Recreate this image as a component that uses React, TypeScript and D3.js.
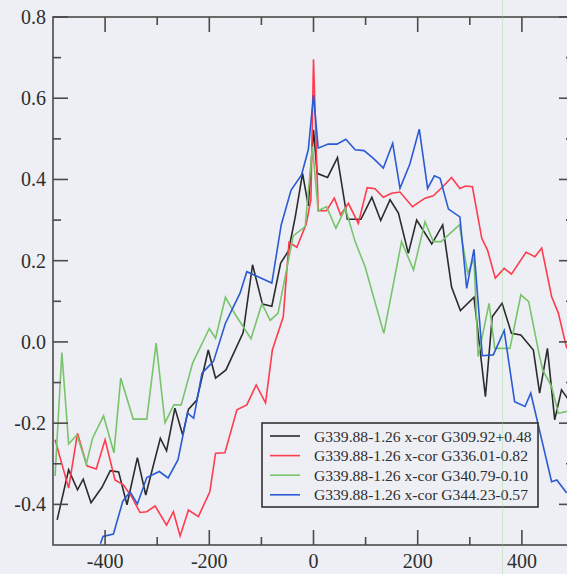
import React from "react";
import * as d3 from "d3";

// Cross-correlation of G339.88-1.26 against four other sources, vs. lag
const blackLag = [-492,-470,-453,-442,-427,-406,-390,-374,-358,-338,-322,-294,-282,-266,-251,-240,-224,-202,-188,-168,-135,-117,-98,-80,-63,-48,-35,-21,-10,0,7,27,46,65,91,112,129,147,163,182,198,227,248,265,282,308,330,343,362,380,398,422,434,449,463,476,490];
const blackVal = [-0.438,-0.315,-0.364,-0.338,-0.396,-0.358,-0.317,-0.320,-0.401,-0.285,-0.377,-0.237,-0.268,-0.163,-0.229,-0.166,-0.143,-0.020,-0.089,-0.069,0.023,0.190,0.093,0.088,0.194,0.224,0.308,0.415,0.335,0.522,0.415,0.405,0.454,0.302,0.302,0.356,0.299,0.350,0.317,0.218,0.300,0.241,0.288,0.135,0.077,0.110,-0.135,0.062,0.095,0.021,0.017,-0.020,-0.126,-0.016,-0.192,-0.118,-0.143];

const redLag = [-496,-470,-453,-435,-417,-400,-381,-365,-349,-333,-320,-304,-282,-269,-256,-240,-221,-199,-188,-170,-147,-128,-110,-92,-79,-58,-47,-32,-14,-5,0,9,25,40,52,67,86,103,118,134,150,166,190,214,230,248,265,281,292,305,323,334,349,366,380,408,425,438,457,470,486];
const redVal = [-0.241,-0.360,-0.225,-0.305,-0.313,-0.241,-0.340,-0.352,-0.381,-0.420,-0.418,-0.404,-0.451,-0.418,-0.478,-0.414,-0.430,-0.369,-0.274,-0.273,-0.167,-0.155,-0.106,-0.150,-0.020,0.062,0.245,0.233,0.290,0.350,0.696,0.323,0.323,0.354,0.313,0.341,0.292,0.380,0.377,0.356,0.366,0.369,0.333,0.354,0.360,0.382,0.405,0.378,0.384,0.382,0.255,0.226,0.157,0.181,0.167,0.221,0.210,0.231,0.112,0.071,-0.016];

const greenLag = [-496,-483,-470,-454,-436,-424,-403,-383,-370,-346,-320,-302,-285,-268,-254,-232,-200,-188,-169,-149,-120,-99,-83,-68,-39,-16,-2,9,25,43,61,80,99,135,169,192,214,230,245,280,296,308,316,337,348,377,398,413,434,440,457,470,486];
const greenVal = [-0.330,-0.026,-0.251,-0.229,-0.300,-0.237,-0.182,-0.273,-0.089,-0.190,-0.190,-0.003,-0.199,-0.155,-0.155,-0.052,0.033,0.009,0.110,0.065,0.008,0.094,0.053,0.071,0.261,0.284,0.481,0.323,0.333,0.280,0.329,0.247,0.185,0.021,0.247,0.177,0.296,0.247,0.247,0.288,0.169,0.205,-0.036,0.095,-0.016,-0.016,0.116,0.099,-0.036,-0.069,-0.110,-0.176,-0.171];

const blueLag = [-409,-404,-384,-366,-352,-338,-320,-296,-279,-260,-242,-230,-214,-192,-169,-141,-128,-80,-62,-43,-23,-10,0,9,28,45,62,80,97,115,134,152,166,185,203,219,232,243,259,281,294,308,324,345,366,386,406,417,457,467,486];
const blueVal = [-0.497,-0.479,-0.473,-0.392,-0.369,-0.399,-0.334,-0.319,-0.335,-0.290,-0.175,-0.188,-0.077,-0.048,0.046,0.120,0.173,0.145,0.288,0.374,0.411,0.473,0.608,0.477,0.487,0.487,0.499,0.473,0.471,0.452,0.428,0.489,0.378,0.438,0.524,0.378,0.409,0.403,0.327,0.308,0.132,0.228,-0.034,-0.032,0.028,-0.147,-0.159,-0.126,-0.344,-0.340,-0.372];

const seriesLabels = [
  "G339.88-1.26 x-cor G309.92+0.48",
  "G339.88-1.26 x-cor G336.01-0.82",
  "G339.88-1.26 x-cor G340.79-0.10",
  "G339.88-1.26 x-cor G344.23-0.57",
];
const seriesColors = ["#2b2b2b", "#ff3b4e", "#78c46a", "#2a5ad4"];

const xMajor = [-400, -200, 0, 200, 400];
const xMinor = [-300, -100, 100, 300];
const yMajor = [-0.4, -0.2, 0, 0.2, 0.4, 0.6, 0.8];
const yMinor = [-0.3, -0.1, 0.1, 0.3, 0.5, 0.7];

const W = 567;
const H = 574;
const BG = "#edeff4";
const AXIS = "#4a4a4a";
const FONT = "'Liberation Serif', 'Times New Roman', serif";

export default function App() {
  const x = d3.scaleLinear().domain([-500, 500]).range([53, 574]);
  const y = d3.scaleLinear().domain([-0.5, 0.8]).range([545, 17]);
  const [x0, x1] = x.range();
  const [y0, y1] = y.range();

  const series = [
    { lag: blackLag, val: blackVal },
    { lag: redLag, val: redVal },
    { lag: greenLag, val: greenVal },
    { lag: blueLag, val: blueVal },
  ];

  const line = d3
    .line<[number, number]>()
    .x((d) => x(d[0]))
    .y((d) => y(d[1]));

  const major = 15;
  const minor = 8;

  const legX = 262;
  const legY = 423;
  const legW = 276;
  const legH = 84;
  const rowH = 19.6;

  return (
    <svg
      width={W}
      height={H}
      style={{ position: "absolute", left: 0, top: 0, display: "block" }}
    >
      <defs>
        <clipPath id="plot">
          <rect x={x0} y={y1} width={x1 - x0} height={y0 - y1} />
        </clipPath>
      </defs>
      <rect x={0} y={0} width={W} height={H} fill={BG} />

      <g clipPath="url(#plot)">
        {series.map((s, i) => (
          <path
            key={i}
            d={line(s.lag.map((l, j) => [l, s.val[j]]) as [number, number][]) || ""}
            fill="none"
            stroke={seriesColors[i]}
            strokeWidth={1.6}
            strokeLinejoin="miter"
          />
        ))}
      </g>

      {/* frame */}
      <rect
        x={x0}
        y={y1}
        width={x1 - x0}
        height={y0 - y1}
        fill="none"
        stroke={AXIS}
        strokeWidth={1.6}
      />

      {/* x ticks, bottom and top, pointing inward */}
      {xMajor.map((t) => (
        <g key={"xM" + t}>
          <line x1={x(t)} x2={x(t)} y1={y0} y2={y0 - major} stroke={AXIS} strokeWidth={1.6} />
          <line x1={x(t)} x2={x(t)} y1={y1} y2={y1 + major} stroke={AXIS} strokeWidth={1.6} />
          <text
            x={x(t)}
            y={568}
            textAnchor="middle"
            fontFamily={FONT}
            fontSize={20}
            fill="#2e2e2e"
          >
            {t}
          </text>
        </g>
      ))}
      {xMinor.map((t) => (
        <g key={"xm" + t}>
          <line x1={x(t)} x2={x(t)} y1={y0} y2={y0 - minor} stroke={AXIS} strokeWidth={1.6} />
          <line x1={x(t)} x2={x(t)} y1={y1} y2={y1 + minor} stroke={AXIS} strokeWidth={1.6} />
        </g>
      ))}

      {/* y ticks, left and right, pointing inward */}
      {yMajor.map((t) => (
        <g key={"yM" + t}>
          <line x1={x0} x2={x0 + major} y1={y(t)} y2={y(t)} stroke={AXIS} strokeWidth={1.6} />
          <line x1={x1} x2={x1 - major} y1={y(t)} y2={y(t)} stroke={AXIS} strokeWidth={1.6} />
          <text
            x={46}
            y={y(t) + 7}
            textAnchor="end"
            fontFamily={FONT}
            fontSize={20}
            fill="#2e2e2e"
          >
            {d3.format(".1f")(t).replace("−", "-")}
          </text>
        </g>
      ))}
      {yMinor.map((t) => (
        <g key={"ym" + t}>
          <line x1={x0} x2={x0 + minor} y1={y(t)} y2={y(t)} stroke={AXIS} strokeWidth={1.6} />
          <line x1={x1} x2={x1 - minor} y1={y(t)} y2={y(t)} stroke={AXIS} strokeWidth={1.6} />
        </g>
      ))}

      {/* legend */}
      <rect x={legX} y={legY} width={legW} height={legH} fill={BG} stroke="#333" strokeWidth={1.6} />
      {seriesLabels.map((lab, i) => {
        const cy = legY + 13 + i * rowH;
        return (
          <g key={lab}>
            <line x1={legX + 8} x2={legX + 38} y1={cy} y2={cy} stroke={seriesColors[i]} strokeWidth={1.6} />
            <text
              x={legX + 52}
              y={cy + 5.5}
              fontFamily={FONT}
              fontSize={15.6}
              fill="#2e2e2e"
            >
              {lab}
            </text>
          </g>
        );
      })}

      {/* faint vertical streak across the sheet */}
      <line x1={502.5} x2={502.5} y1={0} y2={H} stroke="#8fd07e" strokeWidth={1} opacity={0.35} />
    </svg>
  );
}
